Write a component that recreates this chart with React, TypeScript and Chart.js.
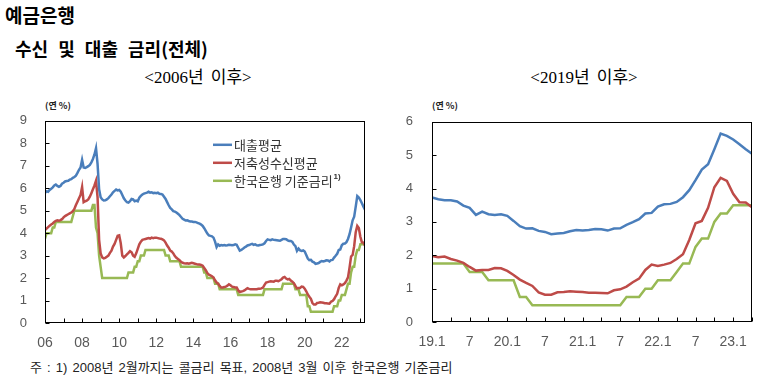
import React, { useEffect, useRef } from 'react';
import { Chart, registerables } from 'chart.js';

Chart.register(...registerables);

// Monthly series, 2006.01 ~ 2023.04 (208 points)
const loanAvg = [
  // 2006
  5.79, 5.86, 5.84, 5.92, 5.97, 6.04, 6.12, 6.16, 6.10, 6.06, 6.10, 6.20,
  // 2007
  6.24, 6.30, 6.32, 6.33, 6.38, 6.40, 6.46, 6.50, 6.56, 6.68, 6.82, 6.92,
  // 2008
  7.26, 6.92, 6.90, 6.94, 6.98, 7.04, 7.15, 7.30, 7.50, 7.78, 7.08, 5.95,
  // 2009
  5.60, 5.50, 5.45, 5.46, 5.50, 5.56, 5.64, 5.72, 5.82, 5.88, 5.94, 5.90,
  // 2010
  5.92, 5.84, 5.70, 5.55, 5.45, 5.38, 5.36, 5.42, 5.52, 5.50, 5.42, 5.45,
  // 2011
  5.42, 5.58, 5.66, 5.72, 5.76, 5.78, 5.80, 5.84, 5.80, 5.82, 5.78, 5.80,
  // 2012
  5.78, 5.80, 5.75, 5.74, 5.72, 5.62, 5.52, 5.38, 5.24, 5.12, 5.06, 4.98,
  // 2013
  4.96, 4.92, 4.86, 4.80, 4.72, 4.64, 4.60, 4.56, 4.57, 4.54, 4.52, 4.52,
  // 2014
  4.50, 4.50, 4.48, 4.45, 4.42, 4.38, 4.32, 4.22, 4.10, 3.98, 3.90, 3.88,
  // 2015
  3.86, 3.80, 3.62, 3.38, 3.50, 3.44, 3.47, 3.45, 3.47, 3.45, 3.46, 3.48,
  // 2016
  3.47, 3.46, 3.47, 3.50, 3.48, 3.35, 3.22, 3.25, 3.30, 3.36, 3.40, 3.45,
  // 2017
  3.47, 3.50, 3.52, 3.48, 3.50, 3.46, 3.45, 3.47, 3.48, 3.50, 3.55, 3.65,
  // 2018
  3.72, 3.70, 3.69, 3.72, 3.70, 3.69, 3.68, 3.67, 3.66, 3.70, 3.74, 3.74,
  // 2019
  3.73, 3.68, 3.65, 3.65, 3.61, 3.49, 3.42, 3.21, 3.31, 3.23, 3.21, 3.23,
  // 2020
  3.18, 3.03, 2.87, 2.80, 2.81, 2.73, 2.70, 2.63, 2.65, 2.67, 2.72, 2.76,
  // 2021
  2.74, 2.76, 2.79, 2.78, 2.74, 2.80, 2.81, 2.91, 2.99, 3.08, 3.25, 3.27,
  // 2022
  3.46, 3.53, 3.54, 3.60, 3.74, 3.95, 4.25, 4.57, 4.73, 5.18, 5.65, 5.58,
  // 2023
  5.47, 5.33, 5.18, 5.04,
];

const depositAvg = [
  // 2006
  4.14, 4.20, 4.27, 4.33, 4.38, 4.43, 4.50, 4.55, 4.57, 4.55, 4.58, 4.62,
  // 2007
  4.70, 4.76, 4.80, 4.84, 4.88, 4.92, 4.98, 5.08, 5.25, 5.40, 5.55, 5.70,
  // 2008
  6.05, 5.38, 5.42, 5.45, 5.50, 5.62, 5.78, 5.95, 6.12, 6.33, 5.60, 3.70,
  // 2009
  3.10, 2.92, 2.88, 2.90, 2.95, 3.00, 3.12, 3.22, 3.40, 3.52, 3.70, 3.88,
  // 2010
  3.90, 3.55, 3.00, 2.92, 2.98, 3.05, 3.12, 3.20, 3.15, 3.00, 2.95, 3.10,
  // 2011
  3.30, 3.50, 3.62, 3.70, 3.72, 3.74, 3.76, 3.78, 3.76, 3.80, 3.78, 3.80,
  // 2012
  3.80, 3.78, 3.76, 3.75, 3.72, 3.68, 3.58, 3.45, 3.35, 3.22, 3.18, 3.10,
  // 2013
  2.98, 2.90, 2.85, 2.80, 2.72, 2.68, 2.66, 2.65, 2.66, 2.64, 2.66, 2.68,
  // 2014
  2.66, 2.64, 2.62, 2.60, 2.60, 2.58, 2.55, 2.45, 2.35, 2.22, 2.15, 2.12,
  // 2015
  2.08, 2.02, 1.90, 1.80, 1.75, 1.65, 1.58, 1.58, 1.60, 1.62, 1.66, 1.72,
  // 2016
  1.68, 1.62, 1.60, 1.58, 1.58, 1.45, 1.38, 1.40, 1.42, 1.45, 1.50, 1.55,
  // 2017
  1.52, 1.50, 1.50, 1.50, 1.50, 1.50, 1.52, 1.52, 1.54, 1.58, 1.70, 1.80,
  // 2018
  1.82, 1.84, 1.86, 1.85, 1.84, 1.88, 1.88, 1.86, 1.90, 1.95, 2.02, 2.05,
  // 2019
  1.98, 1.94, 1.96, 1.89, 1.84, 1.77, 1.65, 1.54, 1.56, 1.56, 1.62, 1.61,
  // 2020
  1.53, 1.41, 1.27, 1.17, 1.08, 0.89, 0.82, 0.82, 0.89, 0.90, 0.92, 0.91,
  // 2021
  0.90, 0.88, 0.88, 0.87, 0.86, 0.95, 0.98, 1.06, 1.19, 1.30, 1.56, 1.72,
  // 2022
  1.68, 1.72, 1.77, 1.89, 2.03, 2.46, 2.96, 3.03, 3.42, 4.04, 4.32, 4.23,
  // 2023
  3.84, 3.59, 3.58, 3.44,
];

const baseRate = [
  // 2006
  3.75, 4.00, 4.00, 4.00, 4.00, 4.25, 4.25, 4.50, 4.50, 4.50, 4.50, 4.50,
  // 2007
  4.50, 4.50, 4.50, 4.50, 4.50, 4.50, 4.75, 5.00, 5.00, 5.00, 5.00, 5.00,
  // 2008
  5.00, 5.00, 5.00, 5.00, 5.00, 5.00, 5.00, 5.25, 5.25, 4.25, 4.00, 3.00,
  // 2009
  2.50, 2.00, 2.00, 2.00, 2.00, 2.00, 2.00, 2.00, 2.00, 2.00, 2.00, 2.00,
  // 2010
  2.00, 2.00, 2.00, 2.00, 2.00, 2.00, 2.25, 2.25, 2.25, 2.25, 2.50, 2.50,
  // 2011
  2.75, 2.75, 3.00, 3.00, 3.00, 3.25, 3.25, 3.25, 3.25, 3.25, 3.25, 3.25,
  // 2012
  3.25, 3.25, 3.25, 3.25, 3.25, 3.25, 3.00, 3.00, 3.00, 2.75, 2.75, 2.75,
  // 2013
  2.75, 2.75, 2.75, 2.75, 2.50, 2.50, 2.50, 2.50, 2.50, 2.50, 2.50, 2.50,
  // 2014
  2.50, 2.50, 2.50, 2.50, 2.50, 2.50, 2.50, 2.25, 2.25, 2.00, 2.00, 2.00,
  // 2015
  2.00, 2.00, 1.75, 1.75, 1.75, 1.50, 1.50, 1.50, 1.50, 1.50, 1.50, 1.50,
  // 2016
  1.50, 1.50, 1.50, 1.50, 1.50, 1.25, 1.25, 1.25, 1.25, 1.25, 1.25, 1.25,
  // 2017
  1.25, 1.25, 1.25, 1.25, 1.25, 1.25, 1.25, 1.25, 1.25, 1.25, 1.50, 1.50,
  // 2018
  1.50, 1.50, 1.50, 1.50, 1.50, 1.50, 1.50, 1.50, 1.50, 1.50, 1.75, 1.75,
  // 2019
  1.75, 1.75, 1.75, 1.75, 1.75, 1.75, 1.50, 1.50, 1.50, 1.25, 1.25, 1.25,
  // 2020
  1.25, 1.25, 0.75, 0.75, 0.50, 0.50, 0.50, 0.50, 0.50, 0.50, 0.50, 0.50,
  // 2021
  0.50, 0.50, 0.50, 0.50, 0.50, 0.50, 0.50, 0.75, 0.75, 0.75, 1.00, 1.00,
  // 2022
  1.25, 1.25, 1.25, 1.50, 1.75, 1.75, 2.25, 2.50, 2.50, 3.00, 3.25, 3.25,
  // 2023
  3.50, 3.50, 3.50, 3.50,
];

const seriesNames = ['대출평균', '저축성수신평균', '한국은행 기준금리'];
const seriesMarks = ['', '', '1)'];
const seriesColors = ['#4A7EBB', '#BE4B48', '#98B954'];

// left chart: ticks every January, labels every two years
const leftYearLabels = ['06', '08', '10', '12', '14', '16', '18', '20', '22'];
// right chart: ticks every quarter, labels every half-year, from 2019.01
const rightTickLabels = ['19.1', '7', '20.1', '7', '21.1', '7', '22.1', '7', '23.1'];
const rightStartIndex = 156; // 2019.01

const yTickFont = { family: "'Liberation Sans', Arial, sans-serif", size: 13 };
const xTickFont = { family: "'Liberation Sans Narrow', 'Liberation Sans', Arial, sans-serif", size: 14 };
const tickColor = '#595959';

const framePlugin = {
  id: 'frame',
  afterDatasetsDraw(chart: any, _args: any, opts: any) {
    const { ctx, chartArea: a, scales } = chart;
    ctx.save();
    ctx.strokeStyle = '#000';
    ctx.lineWidth = 1;
    const l = Math.round(a.left) + 0.5;
    const t = Math.round(a.top) + 0.5;
    const r = Math.round(a.right) - 0.5;
    const b = Math.round(a.bottom) - 0.5;
    ctx.strokeRect(l, t, r - l, b - t);
    ctx.beginPath();
    scales.x.ticks.forEach((tk: any) => {
      const px = Math.round(scales.x.getPixelForValue(tk.value)) + 0.5;
      ctx.moveTo(px, b);
      ctx.lineTo(px, b - 4);
    });
    scales.y.ticks.forEach((tk: any) => {
      const py = Math.round(scales.y.getPixelForValue(tk.value)) + 0.5;
      ctx.moveTo(l, py);
      ctx.lineTo(l + 4, py);
    });
    ctx.stroke();

    const lg = opts && opts.legend;
    if (lg) {
      chart.data.datasets.forEach((ds: any, i: number) => {
        const y = a.top + lg.top + i * lg.gap;
        const x0 = a.left + lg.left;
        ctx.strokeStyle = ds.borderColor;
        ctx.lineWidth = 2.5;
        ctx.beginPath();
        ctx.moveTo(x0, y);
        ctx.lineTo(x0 + lg.lineLen, y);
        ctx.stroke();
        ctx.font = "13px 'Noto Sans CJK KR', sans-serif";
        ctx.fillStyle = '#333';
        ctx.textBaseline = 'middle';
        ctx.textAlign = 'left';
        const tx = x0 + lg.lineLen + 2;
        ctx.fillText(ds.label, tx, y);
        if (ds.mark) {
          const w = ctx.measureText(ds.label).width;
          ctx.font = "bold 8px 'Liberation Sans', Arial, sans-serif";
          ctx.fillText(ds.mark, tx + w + 1, y - 4);
        }
      });
    }
    ctx.restore();
  },
};

function makeDatasets(start: number, end: number) {
  const lists = [loanAvg, depositAvg, baseRate];
  return lists.map((arr, k) => ({
    label: seriesNames[k],
    mark: seriesMarks[k],
    data: arr.slice(start, end).map((v, i) => ({ x: i, y: v })),
    borderColor: seriesColors[k],
    backgroundColor: seriesColors[k],
    borderWidth: 2.5,
    pointRadius: 0,
    tension: 0,
    fill: false,
  }));
}

function baseOptions(xMax: number, xTicks: number[], xLabel: (v: number) => string, yMax: number, yWidth: number, xHeight: number, yPad: number, legend: any) {
  return {
    animation: false as const,
    responsive: false,
    maintainAspectRatio: false,
    events: [],
    layout: { padding: { top: 18, right: 15, left: 0, bottom: 0 } },
    plugins: {
      legend: { display: false },
      tooltip: { enabled: false },
      frame: { legend },
    },
    scales: {
      x: {
        type: 'linear' as const,
        min: 0,
        max: xMax,
        grid: { display: false, drawTicks: false },
        border: { display: false },
        afterBuildTicks: (s: any) => {
          s.ticks = xTicks.map((v) => ({ value: v }));
        },
        afterFit: (s: any) => {
          s.height = xHeight;
        },
        ticks: {
          autoSkip: false,
          maxRotation: 0,
          minRotation: 0,
          padding: 12,
          color: tickColor,
          font: xTickFont,
          callback: (v: any) => xLabel(Number(v)),
        },
      },
      y: {
        min: 0,
        max: yMax,
        grid: { display: false, drawTicks: false },
        border: { display: false },
        afterFit: (s: any) => {
          s.width = yWidth;
        },
        ticks: { stepSize: 1, padding: yPad, color: tickColor, font: yTickFont },
      },
    },
  };
}

function LeftChart() {
  const ref = useRef<HTMLCanvasElement | null>(null);
  useEffect(() => {
    if (!ref.current) return;
    const n = loanAvg.length;
    const xTicks: number[] = [];
    for (let v = 0; v < n; v += 12) xTicks.push(v);
    const chart = new Chart(ref.current, {
      type: 'line',
      data: { datasets: makeDatasets(0, n) as any },
      options: baseOptions(
        n - 1,
        xTicks,
        (v) => (v % 24 === 0 ? leftYearLabels[v / 24] || '' : ''),
        9,
        45,
        32,
        18,
        { left: 168, top: 24, gap: 18, lineLen: 19 }
      ) as any,
      plugins: [framePlugin],
    });
    return () => chart.destroy();
  }, []);
  return <canvas ref={ref} width={380} height={260} style={{ position: 'absolute', left: 0, top: 95, width: 380, height: 260 }} />;
}

function RightChart() {
  const ref = useRef<HTMLCanvasElement | null>(null);
  useEffect(() => {
    if (!ref.current) return;
    const n = loanAvg.length - rightStartIndex;
    const xTicks: number[] = [];
    for (let v = 0; v < n; v += 3) xTicks.push(v);
    const chart = new Chart(ref.current, {
      type: 'line',
      data: { datasets: makeDatasets(rightStartIndex, loanAvg.length) as any },
      options: baseOptions(
        n - 1,
        xTicks,
        (v) => (v % 6 === 0 ? rightTickLabels[v / 6] || '' : ''),
        6,
        42,
        33,
        19,
        null
      ) as any,
      plugins: [framePlugin],
    });
    return () => chart.destroy();
  }, []);
  return <canvas ref={ref} width={377} height={260} style={{ position: 'absolute', left: 390, top: 95, width: 377, height: 260 }} />;
}

const kr = "'Noto Sans CJK KR', sans-serif";
const serifKr = "'Liberation Serif', 'Noto Sans CJK KR', serif";

export default function App() {
  return (
    <div style={{ position: 'absolute', left: 0, top: 0, width: 767, height: 381, background: '#fff', overflow: 'hidden' }}>
      <div style={{ position: 'absolute', left: 5, top: 3, fontFamily: kr, fontWeight: 700, fontSize: 19, lineHeight: '24px', color: '#000' }}>예금은행</div>
      <div style={{ position: 'absolute', left: 15, top: 36, fontFamily: kr, fontWeight: 700, fontSize: 18, lineHeight: '24px', wordSpacing: 6, color: '#000', whiteSpace: 'nowrap' }}>수신 및 대출 금리(전체)</div>
      <div style={{ position: 'absolute', left: 98, width: 200, top: 68, textAlign: 'center', fontFamily: serifKr, fontSize: 17, lineHeight: '20px', wordSpacing: 3, color: '#000', whiteSpace: 'nowrap' }}>&lt;2006년 이후&gt;</div>
      <div style={{ position: 'absolute', left: 484, width: 200, top: 68, textAlign: 'center', fontFamily: serifKr, fontSize: 17, lineHeight: '20px', wordSpacing: 3, color: '#000', whiteSpace: 'nowrap' }}>&lt;2019년 이후&gt;</div>
      <div style={{ position: 'absolute', left: 45, top: 100, fontFamily: kr, fontWeight: 700, fontSize: 9, lineHeight: '12px', color: '#222', whiteSpace: 'nowrap' }}>(연 %)</div>
      <div style={{ position: 'absolute', left: 432, top: 100, fontFamily: kr, fontWeight: 700, fontSize: 9, lineHeight: '12px', color: '#222', whiteSpace: 'nowrap' }}>(연 %)</div>
      <LeftChart />
      <RightChart />
      <div style={{ position: 'absolute', left: 30, top: 360, fontFamily: "'Liberation Sans Narrow', 'Liberation Sans', 'Noto Sans CJK KR', sans-serif", fontSize: 13, lineHeight: '16px', wordSpacing: 1.5, color: '#222', whiteSpace: 'nowrap' }}>주 : 1) 2008년 2월까지는 콜금리 목표, 2008년 3월 이후 한국은행 기준금리</div>
    </div>
  );
}
